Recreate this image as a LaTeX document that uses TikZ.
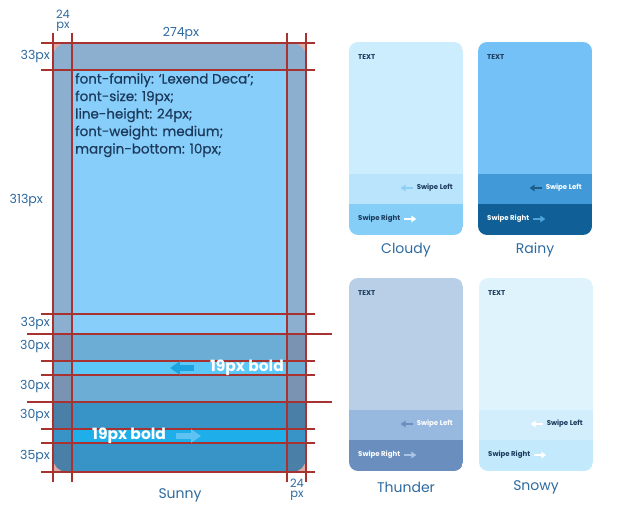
\documentclass[tikz,border=0pt]{standalone}
\usepackage{fontspec}
\setmainfont{Poppins}
\newfontfamily\medfont{Poppins}[FakeBold=0.6]
\usetikzlibrary{arrows.meta}
\definecolor{redl}{HTML}{A83230}
\definecolor{pinkc}{HTML}{DDAAA5}
\definecolor{lblue}{HTML}{2D6A9F}
\definecolor{navy}{HTML}{1B3A5C}
\definecolor{topband}{HTML}{8CAFD0}
\definecolor{topin}{HTML}{87CEFA}
\definecolor{midband}{HTML}{7A93B2}
\definecolor{midin}{HTML}{6BADD4}
\definecolor{midstripe}{HTML}{5BC8F7}
\definecolor{botband}{HTML}{4A7FA8}
\definecolor{botin}{HTML}{3893C7}
\definecolor{botstripe}{HTML}{1EAEEA}
\definecolor{arrA}{HTML}{1CA3E0}
\definecolor{arrB}{HTML}{5EC3F2}
\definecolor{clA}{HTML}{CCEDFD}
\definecolor{clB}{HTML}{B9E4FB}
\definecolor{clC}{HTML}{85CEF7}
\definecolor{clArr}{HTML}{8DD0F5}
\definecolor{raA}{HTML}{74C1F7}
\definecolor{raB}{HTML}{4299D8}
\definecolor{raC}{HTML}{106097}
\definecolor{raArrL}{HTML}{1C5D8C}
\definecolor{raArrR}{HTML}{4FA3DB}
\definecolor{thA}{HTML}{B8CFE7}
\definecolor{thB}{HTML}{97B9DF}
\definecolor{thC}{HTML}{6A8FBF}
\definecolor{thArrR}{HTML}{A9C4E4}
\definecolor{snA}{HTML}{DFF3FD}
\definecolor{snB}{HTML}{D2EEFC}
\definecolor{snC}{HTML}{C2E9FC}
\tikzset{
  redline/.style={draw=redl, line width=2pt},
  dimlabel/.style={text=lblue, font=\fontsize{12.5}{12.5}\selectfont, inner sep=0pt},
  smalldim/.style={text=lblue, font=\fontsize{11.5}{11.5}\selectfont, inner sep=0pt, text height=7pt, text depth=0pt},
  cardlabel/.style={text=lblue, font=\fontsize{14}{14}\selectfont, inner sep=0pt},
  cardtext/.style={font=\fontsize{7}{7}\selectfont\bfseries, inner sep=0pt},
  sarrow/.style={line width=2.4pt, -{Triangle[length=5pt,width=6.5pt]}},
  bigarrow/.style={line width=6pt, -{Triangle[length=10pt,width=13pt]}},
  boldlabel/.style={text=white, font=\fontsize{15.5}{15.5}\selectfont\bfseries, inner sep=0pt}
}
% #1 x, #2 y, #3-#5 band colours, #6 left text, #7 left arrow, #8 right text, #9 right arrow
\newcommand\wcard[9]{%
  \begin{scope}
    \clip[rounded corners=9pt] (#1,#2) rectangle ++(114,193);
    \fill[#3] (#1,#2) rectangle ++(114,132);
    \fill[#4] (#1,#2+132) rectangle ++(114,30);
    \fill[#5] (#1,#2+162) rectangle ++(114,31);
  \end{scope}
  \node[cardtext, text=navy, anchor=west] (\cn-t) at (#1+9,#2+15) {TEXT};
  \node[cardtext, text=#6, anchor=east] (\cn-l) at (#1+104,#2+146) {Swipe Left};
  \draw[#7, sarrow] ([xshift=-4pt]\cn-l.west) -- ++(-12,0);
  \node[cardtext, text=#8, anchor=west] (\cn-r) at (#1+9,#2+177) {Swipe Right};
  \draw[#9, sarrow] ([xshift=4pt]\cn-r.east) -- ++(12,0);
}
\begin{document}
\begin{tikzpicture}[x=1pt,y=-1pt]
\useasboundingbox (0,0) rectangle (619,527);
% big card
\fill[pinkc] (53,43) rectangle (306,472);
\begin{scope}
  \clip[rounded corners=14pt] (53,43) rectangle (306,472);
  \fill[topband] (53,43) rectangle (306,334);
  \fill[topin] (72,70) rectangle (287,334);
  \fill[midband] (53,334) rectangle (306,402);
  \fill[midin] (72,334) rectangle (287,402);
  \fill[midin] (53,361) rectangle (306,375);
  \fill[midstripe] (72,361) rectangle (287,375);
  \fill[botband] (53,402) rectangle (306,472);
  \fill[botin] (72,402) rectangle (287,472);
  \fill[botin] (53,429) rectangle (306,443);
  \fill[botstripe] (72,429) rectangle (287,443);
\end{scope}
% red guide lines
\foreach \xx in {53,72,287,306} \draw[redline] (\xx,33) -- (\xx,482);
\foreach \yy in {43,70,314,361,375,429,443,472} \draw[redline] (41,\yy) -- (315,\yy);
\foreach \yy in {334,402} \draw[redline] (27,\yy) -- (332,\yy);
% css text
\node[anchor=north west, inner sep=0pt, align=left, text=navy,
      font=\fontsize{13.5}{17.5}\medfont] (css) at (75,73)
  {font-family: ‘Lexend Deca’;\\ font-size: 19px;\\ line-height: 24px;\\ font-weight: medium;\\ margin-bottom: 10px;};
% bold labels and arrows
\node[boldlabel, anchor=east] (bl1) at (284,368) {19px bold};
\draw[bigarrow, color=arrA] (194,368) -- (170,368);
\node[boldlabel, anchor=west] (bl2) at (92,436) {19px bold};
\draw[bigarrow, color=arrB] (176,436) -- (201,436);
% dimension labels
\node[smalldim, anchor=base] (d24a) at (63,19) {24};
\node[smalldim, anchor=base] (d24b) at (63,29) {px};
\node[dimlabel] (d274) at (181,34) {274px};
\node[dimlabel, anchor=east] (d33a) at (50,57) {33px};
\node[dimlabel, anchor=east] (d313) at (43,201) {313px};
\node[dimlabel, anchor=east] (d33b) at (50,324) {33px};
\node[dimlabel, anchor=east] (d30a) at (50,347) {30px};
\node[dimlabel, anchor=east] (d30b) at (50,387) {30px};
\node[dimlabel, anchor=east] (d30c) at (50,416) {30px};
\node[dimlabel, anchor=east] (d35) at (50,457) {35px};
\node[smalldim, anchor=base] (d24c) at (297,487) {24};
\node[smalldim, anchor=base] (d24d) at (297,497) {px};
\node[cardlabel] (sunny) at (180,495) {Sunny};
% small cards
\def\cn{cloudy}
\wcard{349}{42}{clA}{clB}{clC}{navy}{clArr}{navy}{white}
\node[cardlabel] (cloudy-name) at (406,250) {Cloudy};
\def\cn{rainy}
\wcard{478}{42}{raA}{raB}{raC}{white}{raArrL}{white}{raArrR}
\node[cardlabel] (rainy-name) at (535,250) {Rainy};
\def\cn{thunder}
\wcard{349}{278}{thA}{thB}{thC}{white}{thC}{white}{thArrR}
\node[cardlabel] (thunder-name) at (406,487) {Thunder};
\def\cn{snowy}
\wcard{479}{278}{snA}{snB}{snC}{navy}{white}{navy}{white}
\node[cardlabel] (snowy-name) at (536,487) {Snowy};
\end{tikzpicture}
\end{document}
